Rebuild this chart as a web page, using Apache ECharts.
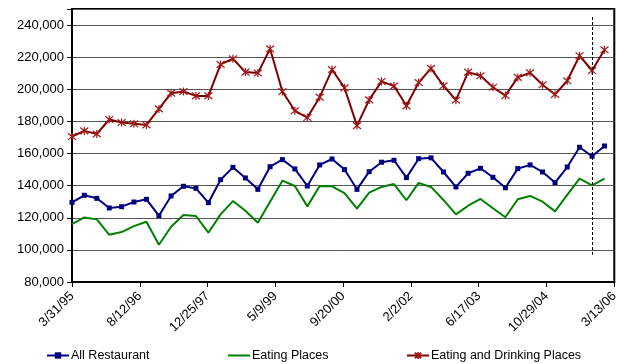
<!DOCTYPE html>
<html>
<head>
<meta charset="utf-8">
<script src="https://cdn.jsdelivr.net/npm/echarts@6/dist/echarts.min.js"></script>
<style>
  html, body { margin: 0; padding: 0; background: #fff; }
  #chart { width: 621px; height: 364px; }
</style>
</head>
<body>
<div id="chart"></div>
<script>
// Quarter-end dates of the series
const quarters = [
  '3/31/95','6/30/95','9/30/95','12/31/95',
  '3/31/96','6/30/96','9/30/96','12/31/96',
  '3/31/97','6/30/97','9/30/97','12/31/97',
  '3/31/98','6/30/98','9/30/98','12/31/98',
  '3/31/99','6/30/99','9/30/99','12/31/99',
  '3/31/00','6/30/00','9/30/00','12/31/00',
  '3/31/01','6/30/01','9/30/01','12/31/01',
  '3/31/02','6/30/02','9/30/02','12/31/02',
  '3/31/03','6/30/03','9/30/03','12/31/03',
  '3/31/04','6/30/04','9/30/04','12/31/04',
  '3/31/05','6/30/05','9/30/05','12/31/05'
];

const allRestaurant = [
  129600,134000,132100,126100,126900,129800,131500,121300,133600,139600,
  138300,129400,143700,151400,144800,137700,151800,156200,150400,139800,
  152900,156600,150000,137700,148700,154600,155800,145000,156800,157300,
  148500,139200,147700,150800,145200,138700,150600,152900,148500,141900,
  151600,163900,158300,164700
];

const eatingPlaces = [
  116100,120200,119000,109400,111100,114800,117500,103200,114400,121700,
  121100,110700,122100,130400,124400,116900,130000,143100,139800,127100,
  139800,139600,135400,125700,135600,139200,141000,130900,141700,139200,
  131100,122100,127500,131700,125900,120300,131500,133600,130000,124000,
  134200,144400,140200,144400
];

const eatingDrinking = [
  170600,174100,172200,181200,179300,178500,177800,187800,197600,198600,
  195900,195900,215500,219000,210700,210100,225200,198600,186600,182400,
  195100,212300,200900,177400,193400,204900,202000,189700,204200,213000,
  202200,193200,210700,208400,201300,196100,207400,210300,202800,196800,
  205300,220900,211700,224600
];

// Date-axis tick labels, one every 500 days from the first quarter
const tickLabels = ['3/31/95','8/12/96','12/25/97','5/9/99','9/20/00','2/2/02','6/17/03','10/29/04','3/13/06'];
const tickStepDays = 500;

// Vertical dashed marker
const markerDate = '9/30/05';
const markerRange = [97000, 245000];

const seriesNames = ['All Restaurant', 'Eating Places', 'Eating and Drinking Places'];

function toDay(s) {
  const [m, d, y] = s.split('/').map(Number);
  return Date.UTC(1900 + (y < 50 ? y + 100 : y), m - 1, d) / 86400000;
}
const day0 = toDay(quarters[0]);
const offset = s => toDay(s) - day0;
const pairs = vals => vals.map((v, i) => [offset(quarters[i]), v]);

const asterisk = 'path://M0,0L10,10M10,0L0,10M5,-1L5,11';
const FONT = 'Liberation Sans, Arial, sans-serif';

const chart = echarts.init(document.getElementById('chart'), null, { renderer: 'canvas' });

const legendBase = {
  orient: 'horizontal',
  top: 349,
  padding: 0,
  itemWidth: 22,
  itemHeight: 8,
  itemGap: 2,
  textStyle: { fontFamily: FONT, fontSize: 12.5, color: '#000', padding: [0, 0, 0, -3] },
  selectedMode: false
};

chart.setOption({
  animation: false,
  backgroundColor: '#fff',
  grid: {
    left: 72, right: 4, top: 9, bottom: 82,
    show: true, borderColor: '#000', borderWidth: 2, backgroundColor: 'transparent'
  },
  legend: [
    Object.assign({}, legendBase, { left: 46, data: [seriesNames[0]] }),
    Object.assign({}, legendBase, {
      left: 228, itemHeight: 2,
      data: [{ name: seriesNames[1], icon: 'rect' }]
    }),
    Object.assign({}, legendBase, { left: 406, data: [seriesNames[2]] })
  ],
  xAxis: {
    type: 'value',
    min: 0,
    max: tickStepDays * (tickLabels.length - 1),
    interval: tickStepDays,
    axisLine: { show: true, onZero: false, lineStyle: { color: '#000', width: 2 } },
    axisTick: { show: true, length: 5, lineStyle: { color: '#000', width: 1 } },
    splitLine: { show: false },
    axisLabel: {
      rotate: 45,
      margin: 12,
      fontFamily: FONT,
      fontSize: 13,
      color: '#000',
      showMaxLabel: true,
      showMinLabel: true,
      formatter: v => tickLabels[Math.round(v / tickStepDays)] || ''
    }
  },
  yAxis: {
    type: 'value',
    min: 80000,
    max: 250000,
    interval: 20000,
    axisLine: { show: true, lineStyle: { color: '#000', width: 2 } },
    axisTick: { show: true, length: 5, lineStyle: { color: '#000', width: 1 } },
    splitLine: { show: true, lineStyle: { color: '#555', width: 1 } },
    axisLabel: {
      margin: 8,
      fontFamily: FONT,
      fontSize: 13,
      color: '#000',
      formatter: v => (v > 240000 ? '' : v.toLocaleString('en-US'))
    }
  },
  series: [
    {
      name: seriesNames[0],
      type: 'line',
      data: pairs(allRestaurant),
      color: '#000080',
      symbol: 'rect',
      symbolSize: 5,
      lineStyle: { color: '#000080', width: 2 },
      itemStyle: { color: '#000080' },
      z: 3
    },
    {
      name: seriesNames[1],
      type: 'line',
      data: pairs(eatingPlaces),
      color: '#008000',
      symbol: 'none',
      showSymbol: false,
      lineStyle: { color: '#008000', width: 2 },
      itemStyle: { color: '#008000' },
      z: 2
    },
    {
      name: seriesNames[2],
      type: 'line',
      data: pairs(eatingDrinking),
      color: '#800000',
      symbol: asterisk,
      symbolSize: 8,
      lineStyle: { color: '#800000', width: 2 },
      itemStyle: { color: 'rgba(0,0,0,0)', borderColor: '#a01818', borderWidth: 1.2 },
      z: 4,
      markLine: {
        silent: true,
        symbol: 'none',
        label: { show: false },
        lineStyle: { color: '#000', type: [3, 2], width: 1 },
        data: [[
          { coord: [offset(markerDate), markerRange[1]] },
          { coord: [offset(markerDate), markerRange[0]] }
        ]]
      }
    }
  ]
});
</script>
</body>
</html>
